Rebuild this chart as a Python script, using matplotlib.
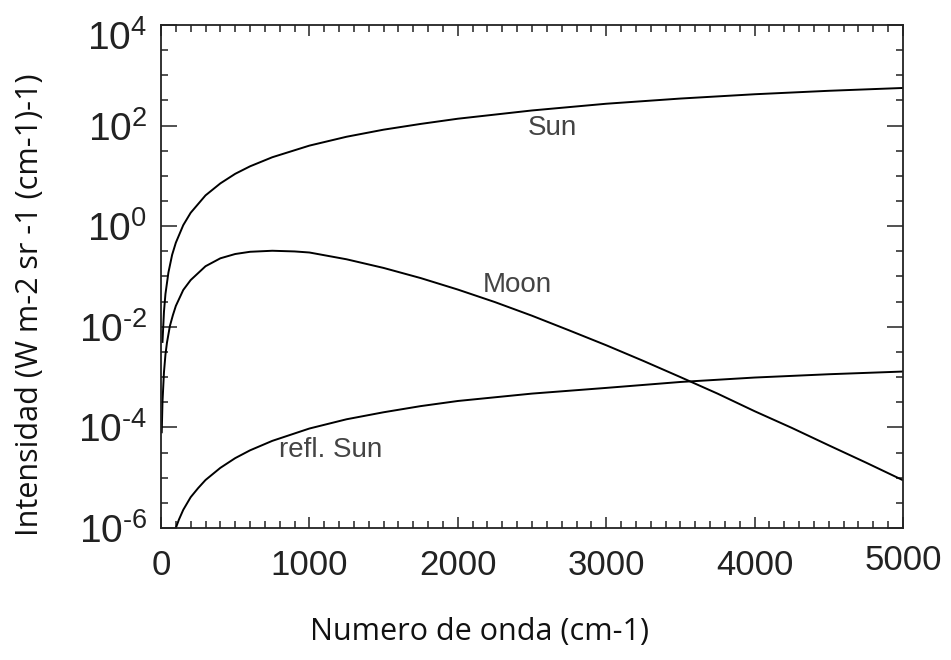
import numpy as np
import matplotlib
matplotlib.use('Agg')
import matplotlib.pyplot as plt
from matplotlib.ticker import FixedLocator, FuncFormatter
from matplotlib.transforms import ScaledTranslation

plt.rcParams['font.family'] = ['Liberation Sans', 'DejaVu Sans']

# valores
sun_x = [10, 20, 30, 50, 75, 100, 150, 200, 300, 400, 500, 600, 750, 1000, 1250, 1500, 1750,
         2000, 2500, 3000, 3500, 4000, 4500, 5000]
sun_y = [0.005, 0.02, 0.045, 0.12, 0.27, 0.47, 1.05, 1.85, 4.1, 7.1, 11, 15.5, 23.5, 40, 60, 83, 108,
         137, 200, 272, 345, 420, 492, 560]

moon_x = [5, 10, 20, 30, 40, 60, 80, 100, 150, 200, 300, 400, 500, 600, 750, 900, 1000, 1250, 1500,
          1750, 2000, 2250, 2500, 2750, 3000, 3250, 3500, 3750, 4000, 4250, 4500, 4750, 5000]
moon_y = [8e-5, 3.2e-4, 1.25e-3, 2.8e-3, 4.8e-3, 0.0104, 0.017, 0.026, 0.054, 0.085, 0.16, 0.23, 0.28,
          0.31, 0.325, 0.315, 0.30, 0.22, 0.148, 0.093, 0.055, 0.031, 0.0166, 8.5e-3, 4.3e-3, 2.1e-3,
          1.0e-3, 4.7e-4, 2.1e-4, 9.8e-5, 4.4e-5, 2.0e-5, 8.9e-6]

refl_x = [100, 120, 150, 200, 250, 300, 400, 500, 600, 750, 1000, 1250, 1500, 1750, 2000, 2500,
          3000, 3500, 4000, 4500, 5000]
refl_y = [1.0e-6, 1.45e-6, 2.3e-6, 4.1e-6, 6.2e-6, 9.0e-6, 1.57e-5, 2.45e-5, 3.5e-5, 5.4e-5, 9.5e-5,
          1.45e-4, 2.0e-4, 2.65e-4, 3.35e-4, 4.7e-4, 6.1e-4, 8.0e-4, 9.8e-4, 1.14e-3, 1.29e-3]

x_ticks = [0, 1000, 2000, 3000, 4000, 5000]
y_exps = [-6, -4, -2, 0, 2, 4]


def y_fmt(v, pos):
    e = int(round(np.log10(v)))
    s = str(e).replace('-', '\u2010')
    return r'$\mathregular{10^{%s}}$' % s


fig = plt.figure(figsize=(9.51, 6.60), dpi=100)
ax = fig.add_axes([161 / 951, 1 - 528 / 660, (903 - 161) / 951, (528 - 25) / 660])

ax.plot(sun_x, sun_y, color='black', lw=1.4)
ax.plot(moon_x, moon_y, color='black', lw=1.4)
ax.plot(refl_x, refl_y, color='black', lw=1.4)

ax.set_yscale('log')
ax.set_xlim(0, 5000)
ax.set_ylim(1e-6, 1e4)

ax.xaxis.set_major_locator(FixedLocator(x_ticks))
ax.xaxis.set_minor_locator(FixedLocator(np.arange(0, 5001, 100)))
ax.yaxis.set_major_locator(FixedLocator([10.0 ** e for e in y_exps]))
ax.yaxis.set_minor_locator(FixedLocator([10.0 ** (k / 2) for k in range(-12, 9) if k % 4 != 0]))
ax.yaxis.set_major_formatter(FuncFormatter(y_fmt))
ax.yaxis.set_minor_formatter(FuncFormatter(lambda v, p: ''))

ax.tick_params(which='both', direction='in', top=True, right=True, width=1.1, color='#222222')
ax.tick_params(axis='y', which='major', length=11.5, pad=10, labelsize=28, labelcolor='#222222')
ax.tick_params(axis='x', which='major', length=8, pad=15, labelsize=25, labelcolor='#222222')
ax.tick_params(which='minor', length=5.2)
for s in ax.spines.values():
    s.set_linewidth(1.3)
    s.set_color('#222222')

# el 5000 aparece algo mas arriba y el 10^4 algo mas abajo en el original
lab = ax.get_xticklabels()[-1]
lab.set_transform(lab.get_transform() + ScaledTranslation(0, 5 / 100, fig.dpi_scale_trans))
lab = ax.get_yticklabels()[-1]
lab.set_transform(lab.get_transform() + ScaledTranslation(0, -10 / 100, fig.dpi_scale_trans))

ax.text(2640, 90, 'Sun', fontsize=20, color='#444444', ha='center', va='center')
ax.text(2400, 0.068, 'Moon', fontsize=20, color='#444444', ha='center', va='center')
ax.text(1145, 3.6e-5, 'refl. Sun', fontsize=20, color='#444444', ha='center', va='center')

fig.text(480 / 951, 1 - 632 / 660, 'Numero de onda (cm-1)', fontsize=22, family='Open Sans',
         ha='center', va='center', color='#111111')
fig.text(30 / 951, 1 - 305 / 660, 'Intensidad (W m-2 sr -1 (cm-1)-1)', fontsize=22, family='Open Sans',
         rotation=90, ha='center', va='center', color='#111111')

fig.savefig('out.png', dpi=100)
